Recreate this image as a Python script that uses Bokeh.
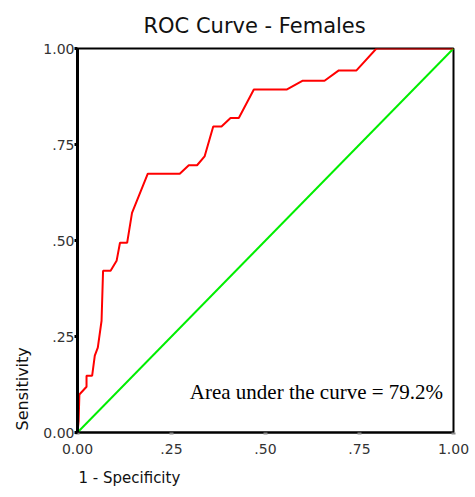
from bokeh.plotting import figure
from bokeh.models import Range1d, FixedTicker, Label, Title
from bokeh.embed import file_html
from bokeh.resources import INLINE

# ---- data ----
fpr = [0.0, 0.003, 0.005, 0.024, 0.024, 0.039, 0.046, 0.054, 0.064, 0.068, 0.088,
       0.104, 0.113, 0.132, 0.145, 0.187, 0.272, 0.296, 0.318, 0.338, 0.361,
       0.383, 0.407, 0.429, 0.469, 0.556, 0.598, 0.657, 0.695, 0.742, 0.795, 1.0]
tpr = [0.0, 0.03, 0.099, 0.119, 0.148, 0.148, 0.200, 0.221, 0.291, 0.421, 0.421,
       0.447, 0.494, 0.494, 0.572, 0.674, 0.674, 0.696, 0.696, 0.719, 0.797,
       0.797, 0.819, 0.819, 0.893, 0.893, 0.916, 0.916, 0.943, 0.943, 1.0, 1.0]
ref_x = [0.0, 1.0]
ref_y = [0.0, 1.0]
tick_values = [0.0, 0.25, 0.5, 0.75, 1.0]
tick_labels = ["0.00", ".25", ".50", ".75", "1.00"]
title_text = "ROC Curve - Females"
x_title = "1 - Specificity"
y_title = "Sensitivity"
auc_text = "Area under the curve = 79.2%"

p = figure(width=475, height=497, output_backend="svg", toolbar_location=None,
           x_range=Range1d(0, 1), y_range=Range1d(0, 1),
           min_border_left=77, min_border_right=22, min_border_top=47,
           min_border_bottom=65)
p.background_fill_color = "white"
p.border_fill_color = "white"
p.outline_line_color = "black"
p.outline_line_width = 2
p.xgrid.visible = False
p.ygrid.visible = False

overrides = dict(zip(tick_values, tick_labels))
for ax in (p.xaxis[0], p.yaxis[0]):
    ax.ticker = FixedTicker(ticks=tick_values)
    ax.major_label_overrides = overrides
    ax.minor_tick_line_color = None
    ax.major_tick_in = 0
    ax.major_label_text_font = "DejaVu Sans"
    ax.major_label_text_font_size = "14px"
    ax.major_label_text_color = "#333333"
    ax.axis_line_color = "black"

xa = p.xaxis[0]
xa.axis_line_width = 2
xa.major_tick_out = 2
xa.major_tick_line_width = 4
xa.major_tick_line_color = "#888888"
xa.major_label_standoff = 9

ya = p.yaxis[0]
ya.axis_line_width = 3
ya.major_tick_out = 3
ya.major_tick_line_width = 3
ya.major_tick_line_color = "black"
ya.major_label_standoff = 0

p.line(ref_x, ref_y, line_color="#00ee00", line_width=2)
p.line(fpr, tpr, line_color="#ff0000", line_width=2)

p.add_layout(Title(text=title_text, align="left", offset=66, standoff=22,
                   text_font="DejaVu Sans", text_font_size="21px",
                   text_font_style="normal", text_color="#111111"), "above")
p.add_layout(Title(text=x_title, align="left", offset=1, standoff=21,
                   text_font="DejaVu Sans", text_font_size="15px",
                   text_font_style="normal", text_color="#111111"), "below")
p.add_layout(Title(text=y_title, align="left", offset=2, standoff=18,
                   text_font="DejaVu Sans", text_font_size="16px",
                   text_font_style="normal", text_color="#111111"), "left")
p.add_layout(Label(x=0.2987, y=0.1047, text=auc_text, text_align="left",
                   text_baseline="alphabetic", text_font="Liberation Serif",
                   text_font_size="21px", text_color="black"))

open("out.html", "w").write(file_html(p, INLINE))
